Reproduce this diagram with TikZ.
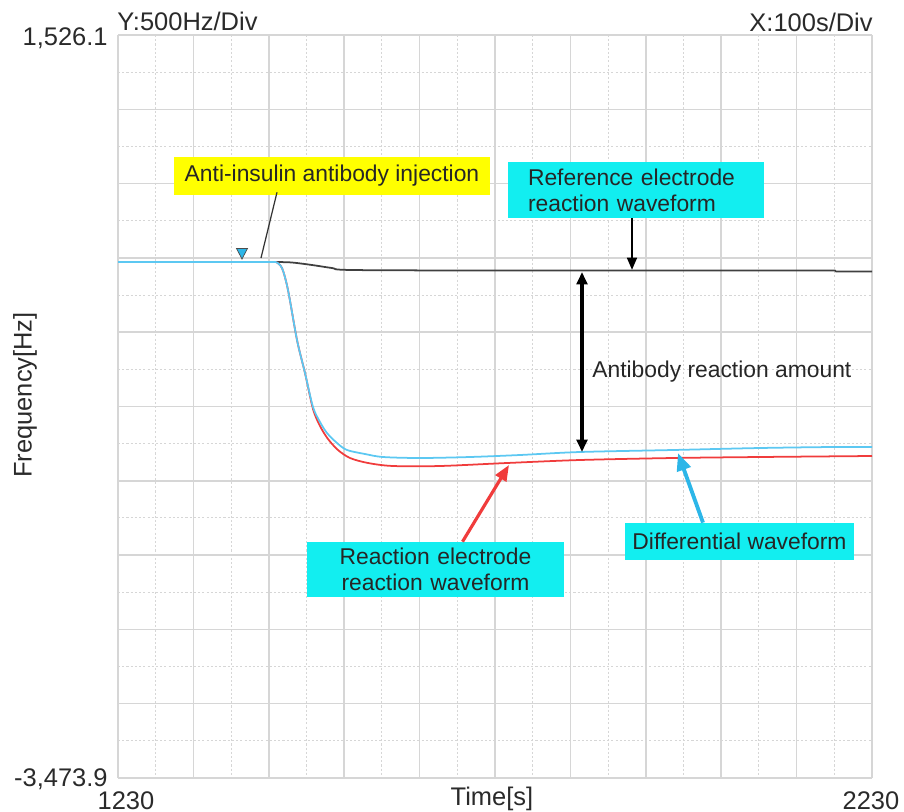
\documentclass[tikz,border=0pt]{standalone}
\usepackage{fontspec}
\setmainfont{Liberation Sans}
\usetikzlibrary{arrows.meta,calc}
\definecolor{boxcyan}{HTML}{12EEF0}
\definecolor{boxyellow}{HTML}{FFFF00}
\definecolor{wavecyan}{HTML}{5CC8F2}
\definecolor{wavered}{HTML}{F03C3C}
\definecolor{arrowcyan}{HTML}{2CB6E8}
\definecolor{gridgray}{HTML}{D6D6D6}
\definecolor{labelgray}{HTML}{2A2A2A}
\tikzset{
  majorgrid/.style={gridgray, line width=0.9pt},
  minorgrid/.style={gridgray, line width=0.6pt, dash pattern=on 1.2pt off 1.2pt},
  axislabel/.style={labelgray, font=\fontsize{14.5}{16}\selectfont, inner sep=0pt},
  callout/.style={inner sep=0pt, font=\fontsize{13}{14.7}\selectfont, text=black!85},
  pointer/.style={-{Triangle[length=7pt,width=5.5pt]}, line width=1.4pt},
  wave/.style={line width=1pt, line join=round},
}

\begin{document}
\begin{tikzpicture}[x=0.02cm, y=-0.02cm]
    \useasboundingbox (0,0) rectangle (904,812);
    % grid
    \foreach \i in {0,...,9} {
        \draw[minorgrid] ({118+75.4*(\i+0.5)},35) -- ({118+75.4*(\i+0.5)},778);
        \draw[minorgrid] (118,{35+74.3*(\i+0.5)}) -- (872,{35+74.3*(\i+0.5)});
    }
    \foreach \i in {0,...,10} {
        \draw[majorgrid] ({118+75.4*\i},35) -- ({118+75.4*\i},778);
        \draw[majorgrid] (118,{35+74.3*\i}) -- (872,{35+74.3*\i});
    }

    % axis texts
    \node[axislabel, anchor=base east] (ymax) at (108,45) {1,526.1};
    \node[axislabel, anchor=base east] (ymin) at (108,786) {-3,473.9};
    \node[axislabel, anchor=base] (xmin) at (126,809) {1230};
    \node[axislabel, anchor=base] (xmax) at (871,809) {2230};
    \node[axislabel, anchor=base west] (ydiv) at (117,30) {Y:500Hz/Div};
    \node[axislabel, anchor=base east] (xdiv) at (873,31) {X:100s/Div};
    \node[axislabel, anchor=base] (xname) at (492,805) {Time[s]};
    \node[axislabel, rotate=90] (yname) at (25,395) {Frequency[Hz]};

    % waveforms
    \draw[wave, black!75] plot[smooth] coordinates {(276,262) (292,262.5) (312,265) (332,268) (352,270) (500,270.5) (835,270.5)}
        -- (836,271.5) -- (872,271.5);
    \draw[wave, wavered] plot[smooth] coordinates {(276,262) (282,268) (288,290) (297,340) (305,373) (313,409) (320,426)
        (328,439) (338,450) (350,458) (368,463) (393,466) (440,466) (507,463) (580,460) (673,458) (760,457) (872,456)};
    \draw[wave, wavecyan] (118,262) -- (276,262);
    \draw[wave, wavecyan] plot[smooth] coordinates {(276,262) (282,268) (288,290) (297,340) (305,373) (313,407) (320,422)
        (327,433) (337,443) (347,450) (365,454) (383,457) (420,458) (470,457) (520,455) (580,452) (673,450) (760,448) (833,447) (872,447)};
    \filldraw[fill=arrowcyan, draw=black!70, line width=0.4pt] (236.5,248.5) -- (247.5,248.5) -- (242,259) -- cycle;

    % callouts
    \node[callout, fill=boxyellow, minimum width=6.32cm, minimum height=0.76cm] (injbox) at (332,176) {Anti-insulin antibody injection};
    \node[callout, fill=boxcyan, text width=4.32cm, align=left, inner xsep=0.4cm, minimum height=1.12cm] (refbox) at (636,190)
        {Reference electrode\\reaction waveform};
    \node[callout, fill=boxcyan, text width=4.34cm, align=center, inner xsep=0.4cm, minimum height=1.1cm] (reacbox) at (435.5,569.5)
        {Reaction electrode\\reaction waveform};
    \node[callout, fill=boxcyan, minimum width=4.58cm, minimum height=0.74cm] (diffbox) at (739.5,541.5) {Differential waveform};
    \node[callout, anchor=west] (amtlabel) at (592,372) {Antibody reaction amount};

    \coordinate (injpt) at (261,258);
    \coordinate (refpt) at (632,270);
    \coordinate (reacpt) at (509,465);
    \coordinate (diffpt) at (678,453);
    \coordinate (amttop) at (582,272);
    \coordinate (amtbot) at (582,452);

    \draw[black!80, line width=0.7pt] ($(injbox.south)+(-55,-3)$) -- (injpt);
    \draw[pointer] (refbox.south -| refpt) -- (refpt);
    \draw[pointer, {Triangle[length=7pt,width=6pt]}-{Triangle[length=7pt,width=6pt]}, line width=1.8pt] (amttop) -- (amtbot);
    \draw[pointer, wavered, line width=1.8pt, -{Triangle[length=9pt,width=7pt]}] ($(reacbox.north)+(27,0)$) -- (reacpt);
    \draw[pointer, arrowcyan, line width=2.2pt, -{Triangle[length=10pt,width=8pt]}] ($(diffbox.north)+(-36.5,0)$) -- (diffpt);
\end{tikzpicture}
\end{document}
